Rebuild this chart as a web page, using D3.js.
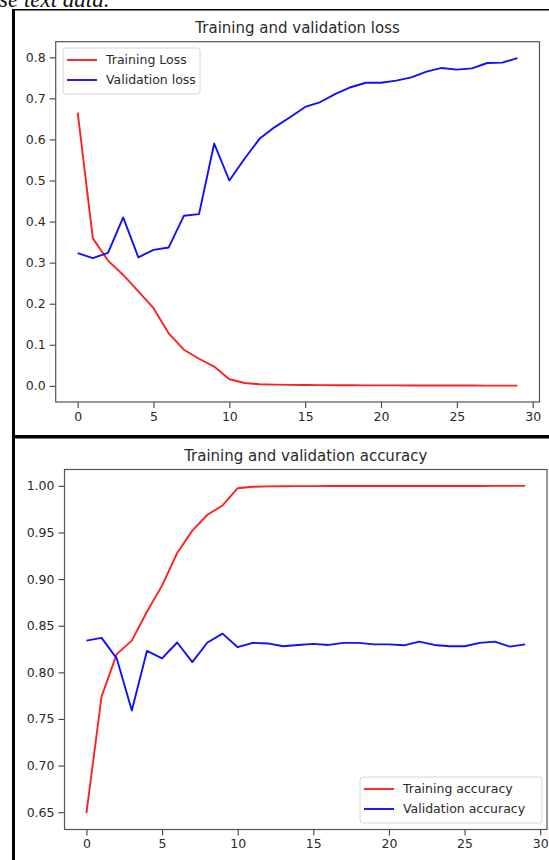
<!DOCTYPE html>
<html>
<head>
<meta charset="utf-8">
<script src="https://cdn.jsdelivr.net/npm/d3@7"></script>
<style>
  body { margin: 0; background: #fff; }
  svg { display: block; }
</style>
</head>
<body>
<svg id="chart" width="549" height="860"></svg>
<script>
// epochs 0..29
const epochs = d3.range(30);

const trainLoss = [0.665, 0.359, 0.305, 0.270, 0.230, 0.189, 0.128, 0.088, 0.066, 0.047,
  0.016, 0.007, 0.004, 0.003, 0.0025, 0.002, 0.0018, 0.0016, 0.0014, 0.0013,
  0.0012, 0.0011, 0.001, 0.0009, 0.0009, 0.0008, 0.0008, 0.0007, 0.0007, 0.0006];
const valLoss = [0.323, 0.311, 0.324, 0.410, 0.313, 0.331, 0.337, 0.414, 0.418, 0.590,
  0.500, 0.553, 0.602, 0.630, 0.654, 0.679, 0.691, 0.711, 0.727, 0.738,
  0.738, 0.743, 0.751, 0.765, 0.774, 0.770, 0.773, 0.786, 0.787, 0.798];

const trainAcc = [0.649, 0.774, 0.8195, 0.834, 0.865, 0.893, 0.928, 0.952, 0.969, 0.979,
  0.9975, 0.999, 0.9995, 0.9996, 0.9997, 0.9997, 0.9998, 0.9999, 0.9998, 0.9999,
  0.9999, 0.9999, 0.9998, 0.9999, 0.9999, 0.9999, 0.9999, 1.0, 1.0, 1.0];
const valAcc = [0.834, 0.837, 0.815, 0.759, 0.823, 0.815, 0.832, 0.811, 0.832, 0.8415,
  0.827, 0.8316, 0.831, 0.828, 0.8294, 0.8305, 0.8294, 0.8316, 0.8316, 0.830,
  0.830, 0.829, 0.833, 0.8294, 0.828, 0.828, 0.8316, 0.833, 0.8276, 0.830];

const xTicks = [0, 5, 10, 15, 20, 25, 30];
const lossTicks = [0.0, 0.1, 0.2, 0.3, 0.4, 0.5, 0.6, 0.7, 0.8];
const accTicks = [0.65, 0.70, 0.75, 0.80, 0.85, 0.90, 0.95, 1.00];

const svg = d3.select("#chart");
const font = "'DejaVu Sans', sans-serif";
const textColor = "#2a2a2a";

// partially visible caption above the screenshot
svg.append("text")
    .attr("x", -1)
    .attr("y", 7)
    .attr("font-family", "'Liberation Serif', serif")
    .attr("font-style", "italic")
    .attr("font-size", 23)
    .attr("fill", "#111")
    .text("se text data.");

// like matplotlib: pad the data range by 5% on each side
function padded(extent) {
    const pad = (extent[1] - extent[0]) * 0.05;
    return [extent[0] - pad, extent[1] + pad];
}

function drawPanel(opts) {
    const { box, title, series, yTicks, yFormat, legendBox } = opts;

    const x = d3.scaleLinear()
        .domain(padded([0, epochs.length - 1]))
        .range([box.left, box.right]);

    const allY = series.flatMap(s => s.values);
    const y = d3.scaleLinear()
        .domain(padded(d3.extent(allY)))
        .range([box.bottom, box.top]);

    const g = svg.append("g");

    g.append("text")
        .attr("x", (box.left + box.right) / 2)
        .attr("y", box.top - 9)
        .attr("text-anchor", "middle")
        .attr("font-family", font)
        .attr("font-size", 15)
        .attr("fill", textColor)
        .text(title);

    const xAxis = g.append("g")
        .attr("transform", `translate(0,${box.bottom})`)
        .call(d3.axisBottom(x).tickValues(xTicks).tickFormat(d3.format("d")).tickSize(6).tickPadding(4));

    const yAxis = g.append("g")
        .attr("transform", `translate(${box.left},0)`)
        .call(d3.axisLeft(y).tickValues(yTicks).tickFormat(d3.format(yFormat)).tickSize(6).tickPadding(4));

    [xAxis, yAxis].forEach(a => {
        a.select(".domain").remove();
        a.selectAll("line").attr("stroke", "#444").attr("stroke-width", 1.1);
        a.selectAll("text")
            .attr("font-family", font)
            .attr("font-size", 12.5)
            .attr("fill", textColor);
    });

    const line = d3.line()
        .x((d, i) => x(epochs[i]))
        .y(d => y(d));

    series.forEach(s => {
        g.append("path")
            .datum(s.values)
            .attr("fill", "none")
            .attr("stroke", s.color)
            .attr("stroke-width", 1.9)
            .attr("stroke-linejoin", "round")
            .attr("d", line);
    });

    // axes frame
    g.append("rect")
        .attr("x", box.left)
        .attr("y", box.top)
        .attr("width", box.right - box.left)
        .attr("height", box.bottom - box.top)
        .attr("fill", "none")
        .attr("stroke", "#555")
        .attr("stroke-width", 1.2);

    // legend
    const lg = g.append("g").attr("transform", `translate(${legendBox.x},${legendBox.y})`);
    lg.append("rect")
        .attr("width", legendBox.w)
        .attr("height", legendBox.h)
        .attr("rx", 3)
        .attr("fill", "white")
        .attr("fill-opacity", 0.85)
        .attr("stroke", "#d6d6d6")
        .attr("stroke-width", 1);

    const item = lg.selectAll(".legend-item")
        .data(series)
        .enter().append("g")
        .attr("class", "legend-item")
        .attr("transform", (d, i) => `translate(0,${12 + i * 20})`);

    item.append("line")
        .attr("x1", 4)
        .attr("x2", 34)
        .attr("stroke", d => d.color)
        .attr("stroke-width", 1.9);

    item.append("text")
        .attr("x", 43)
        .attr("dy", "0.35em")
        .attr("font-family", font)
        .attr("font-size", 12.5)
        .attr("fill", textColor)
        .text(d => d.label);
}

drawPanel({
    box: { left: 55.7, right: 539.5, top: 41.7, bottom: 402 },
    title: "Training and validation loss",
    series: [
        { label: "Training Loss", values: trainLoss, color: "#ff2020" },
        { label: "Validation loss", values: valLoss, color: "#1010ff" }
    ],
    yTicks: lossTicks,
    yFormat: ".1f",
    legendBox: { x: 63, y: 48, w: 137, h: 46 }
});

drawPanel({
    box: { left: 64.5, right: 547, top: 469.5, bottom: 829.5 },
    title: "Training and validation accuracy",
    series: [
        { label: "Training accuracy", values: trainAcc, color: "#ff2020" },
        { label: "Validation accuracy", values: valAcc, color: "#1010ff" }
    ],
    yTicks: accTicks,
    yFormat: ".2f",
    legendBox: { x: 360, y: 777, w: 182, h: 46 }
});

// black screenshot frame lines
svg.append("rect").attr("x", 12).attr("y", 9).attr("width", 537).attr("height", 1.5).attr("fill", "#000");
svg.append("rect").attr("x", 12).attr("y", 9).attr("width", 3).attr("height", 851).attr("fill", "#000");
svg.append("rect").attr("x", 12).attr("y", 435).attr("width", 537).attr("height", 3.5).attr("fill", "#000");
</script>
</body>
</html>
